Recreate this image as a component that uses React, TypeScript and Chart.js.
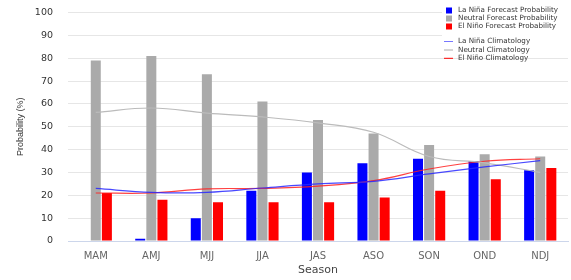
import React, { useEffect, useRef } from "react";
import { Chart, registerables } from "chart.js";

Chart.register(...registerables);

const categories = ["MAM", "AMJ", "MJJ", "JJA", "JAS", "ASO", "SON", "OND", "NDJ"];
const laNinaForecast = [0, 1, 10, 22, 30, 34, 36, 35, 31];
const neutralForecast = [79, 81, 73, 61, 53, 47, 42, 38, 37];
const elNinoForecast = [21, 18, 17, 17, 17, 19, 22, 27, 32];
const laNinaClim = [23, 21.3, 21.3, 23.2, 25, 26.1, 29.4, 32.4, 35.2];
const neutralClim = [56.3, 58.2, 56, 54.3, 51.7, 47.6, 37, 34.2, 30];
const elNinoClim = [21, 21, 22.8, 23, 24, 26.4, 31.5, 34.9, 36];
const yTicks = [0, 10, 20, 30, 40, 50, 60, 70, 80, 90, 100];

const legendPlugin = {
  id: "customLegend",
  afterDraw(chart: any) {
    const ctx = chart.ctx;
    const ds = chart.data.datasets;
    ctx.save();
    ctx.fillStyle = "#ffffff";
    ctx.fillRect(442, 2, 126, 53);
    ctx.font = "7.2px 'DejaVu Sans'";
    ctx.textBaseline = "middle";
    ctx.textAlign = "left";
    const barRows = [10.5, 18.5, 26.5];
    const lineRows = [41.5, 50, 58.3];
    for (let i = 0; i < 3; i++) {
      const d = ds[i];
      ctx.fillStyle = d.backgroundColor;
      ctx.fillRect(446, barRows[i] - 3, 6, 6);
      ctx.fillStyle = "#333";
      ctx.fillText(d.label, 458, barRows[i]);
    }
    for (let i = 0; i < 3; i++) {
      const d = ds[i + 3];
      ctx.strokeStyle = d.legendColor;
      ctx.lineWidth = 1;
      ctx.beginPath();
      ctx.moveTo(444, lineRows[i]);
      ctx.lineTo(453, lineRows[i]);
      ctx.stroke();
      ctx.fillStyle = "#333";
      ctx.fillText(d.label, 458, lineRows[i]);
    }
    ctx.restore();
  },
};

export default function App() {
  const ref = useRef<HTMLCanvasElement>(null);
  useEffect(() => {
    if (!ref.current) return;
    const barCommon = {
      type: "bar" as const,
      categoryPercentage: 0.6,
      barPercentage: 0.9,
      borderWidth: 0,
      order: 2,
    };
    const lineCommon = {
      type: "line" as const,
      tension: 0.4,
      borderWidth: 1.2,
      pointRadius: 0,
      fill: false,
      order: 1,
    };
    const chart = new Chart(ref.current, {
      type: "bar",
      data: {
        labels: categories,
        datasets: [
          { ...barCommon, label: "La Niña Forecast Probability", data: laNinaForecast, backgroundColor: "#0000ff" },
          { ...barCommon, label: "Neutral Forecast Probability", data: neutralForecast, backgroundColor: "#aaaaaa" },
          { ...barCommon, label: "El Niño Forecast Probability", data: elNinoForecast, backgroundColor: "#ff0000" },
          { ...lineCommon, label: "La Niña Climatology", data: laNinaClim, borderColor: "rgba(40,40,255,0.85)", legendColor: "#7777ff" } as any,
          { ...lineCommon, label: "Neutral Climatology", data: neutralClim, borderColor: "#bbbbbb", legendColor: "#aaaaaa" } as any,
          { ...lineCommon, label: "El Niño Climatology", data: elNinoClim, borderColor: "rgba(255,30,30,0.85)", legendColor: "#ff0000" } as any,
        ],
      },
      options: {
        responsive: false,
        animation: false,
        layout: { padding: { top: 12.5, right: 3, left: 0, bottom: 3 } },
        plugins: { legend: { display: false }, tooltip: { enabled: false } },
        scales: {
          x: {
            grid: { display: false, drawTicks: false },
            border: { display: true, color: "#ccd6eb", width: 1 },
            ticks: { color: "#666", font: { family: "'DejaVu Sans'", size: 10 }, padding: 9, maxRotation: 0 },
            title: { display: true, text: "Season", color: "#444", font: { family: "'DejaVu Sans'", size: 11 }, padding: { top: 2, bottom: 0 } },
            afterFit: (s: any) => { s.height = 36; },
          },
          y: {
            min: 0,
            max: 100,
            afterBuildTicks: (s: any) => { s.ticks = yTicks.map((v) => ({ value: v })); },
            grid: { color: "#e6e6e6", drawTicks: true, tickLength: 12, tickColor: "rgba(0,0,0,0)" },
            border: { display: false },
            ticks: { color: "#333", font: { family: "'DejaVu Sans'", size: 9.5 }, padding: 3 },
            title: { display: true, text: "Probability (%)", color: "#333", font: { family: "'Liberation Sans'", size: 9 }, padding: { top: 15, bottom: 0 } },
            afterFit: (s: any) => { s.width = 68; },
          },
        },
      },
      plugins: [legendPlugin],
    });
    return () => chart.destroy();
  }, []);
  return (
    <div style={{ position: "fixed", left: 0, top: 0, width: 571, height: 280, background: "#fff" }}>
      <canvas ref={ref} width={571} height={280} style={{ width: 571, height: 280 }} />
    </div>
  );
}
